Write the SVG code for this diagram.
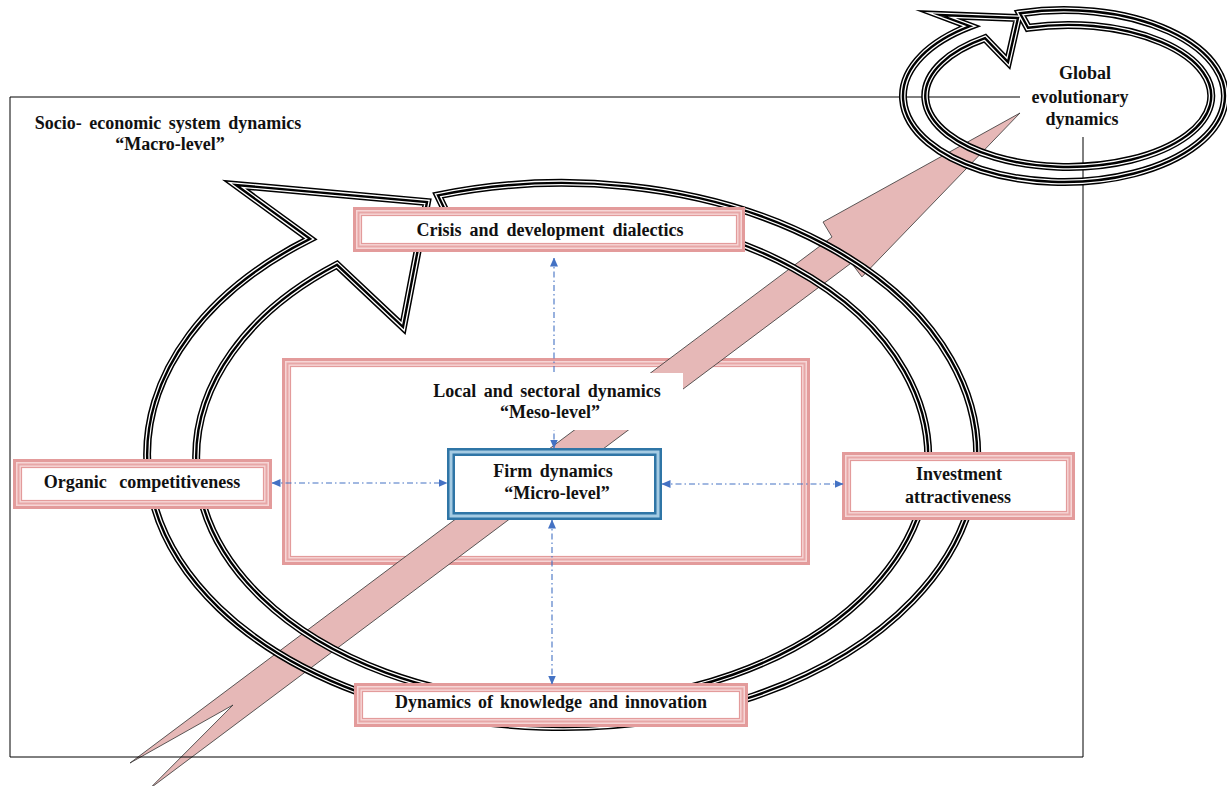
<svg xmlns="http://www.w3.org/2000/svg" width="1227" height="786" viewBox="0 0 1227 786">
<style>
.t{font-family:"Liberation Serif","Times New Roman",serif;font-weight:bold;font-size:18px;fill:#111;text-anchor:middle}
.r1{fill:none;stroke:#000;stroke-width:8;stroke-linejoin:miter;stroke-miterlimit:10}
.r2{fill:none;stroke:#fff;stroke-width:5;stroke-linejoin:miter;stroke-miterlimit:10}
.r3{fill:none;stroke:#000;stroke-width:2.4;stroke-linejoin:miter;stroke-miterlimit:10}
.rb0{fill:#fff;stroke:#F6D6D6;stroke-width:8}
.rb0n{fill:none;stroke:#F6D6D6;stroke-width:8}
.rb1{fill:none;stroke:#E39B9B;stroke-width:3}
.rb2{fill:none;stroke:#E7A7A7;stroke-width:2}
.rb3{fill:none;stroke:#E39B9B;stroke-width:1.2}
.bb0{fill:#fff;stroke:#A5CBE3;stroke-width:8}
.bb1{fill:none;stroke:#2F75A6;stroke-width:2.5}
.cn{fill:none;stroke:#4472C4;stroke-width:1.1;stroke-dasharray:6 3 1.5 3;marker-start:url(#ah);marker-end:url(#ah)}
</style>
<defs>
<marker id="ah" viewBox="0 0 9 8" refX="8.5" refY="4" markerWidth="9" markerHeight="8" markerUnits="userSpaceOnUse" orient="auto-start-reverse">
<path d="M0,0 L9,4 L0,8 z" fill="#4472C4"/>
</marker>
<path id="bigring" d="M 438 195.4 A 415 272 0 1 1 310 238.9 L 236 185 L 427 202 L 403 327 L 337 264.8 A 366 245 0 1 0 452 224.3 Z"/>
<path id="globring" d="M 1020 13.3 A 161 86 0 1 1 970 26.2 L 940 15 L 1018 18 L 1008 62 L 985 38.2 A 143 71 0 1 0 1028 27.8 Z"/>
</defs>
<rect width="1227" height="786" fill="#fff"/>

<g id="meso">
<rect class="rb0n" x="286" y="362" width="520" height="199"/>
<rect class="rb1" x="283.5" y="359.5" width="525" height="204"/>
<rect class="rb2" x="287.5" y="363.5" width="517" height="196"/>
<rect class="rb3" x="290.5" y="366.5" width="511" height="190"/>
</g>

<g id="evolution-arrow">
<polygon points="130,763 832,237 823,222 1020,113 861.9,276.9 851.4,262.9 149.4,788.9 233,705" fill="#E6B8B7" stroke="#333" stroke-width="0.8"/>
</g>

<g id="macro-frame">
<polyline points="1020,97 10,97 10,757 1083,757 1083,137" fill="none" stroke="#000" stroke-width="1"/>
<text class="t" x="168" y="129" word-spacing="3">Socio- economic system dynamics</text>
<text class="t" x="170" y="150">“Macro-level”</text>
</g>

<g id="macro-cycle">
<use href="#bigring" class="r1"/>
<use href="#bigring" class="r2"/>
<use href="#bigring" class="r3"/>
</g>

<g id="global">
<use href="#globring" class="r1"/>
<use href="#globring" class="r2"/>
<use href="#globring" class="r3"/>
<text class="t" x="1085" y="79">Global</text>
<text class="t" x="1080" y="103">evolutionary</text>
<text class="t" x="1082" y="125">dynamics</text>
</g>

<g id="crisis">
<rect class="rb0" x="357" y="211" width="384" height="37"/>
<rect class="rb1" x="354.5" y="208.5" width="389" height="42"/>
<rect class="rb2" x="358.5" y="212.5" width="381" height="34"/>
<rect class="rb3" x="361.5" y="215.5" width="375" height="28"/>
<text class="t" x="550" y="236" word-spacing="3.5">Crisis and development dialectics</text>
</g>

<g id="organic">
<rect class="rb0" x="17" y="463" width="251" height="42"/>
<rect class="rb1" x="14.5" y="460.5" width="256" height="47"/>
<rect class="rb2" x="18.5" y="464.5" width="248" height="39"/>
<rect class="rb3" x="21.5" y="467.5" width="242" height="33"/>
<text class="t" x="142" y="488" word-spacing="8">Organic competitiveness</text>
</g>

<g id="investment">
<rect class="rb0" x="846" y="456" width="225" height="60"/>
<rect class="rb1" x="843.5" y="453.5" width="230" height="65"/>
<rect class="rb2" x="847.5" y="457.5" width="222" height="57"/>
<rect class="rb3" x="850.5" y="460.5" width="216" height="51"/>
<text class="t" x="959" y="480">Investment</text>
<text class="t" x="958" y="503">attractiveness</text>
</g>

<g id="knowledge">
<rect class="rb0" x="358" y="687" width="386" height="36"/>
<rect class="rb1" x="355.5" y="684.5" width="391" height="41"/>
<rect class="rb2" x="359.5" y="688.5" width="383" height="33"/>
<rect class="rb3" x="362.5" y="691.5" width="377" height="27"/>
<text class="t" x="551" y="708" word-spacing="2.5">Dynamics of knowledge and innovation</text>
</g>

<g id="firm">
<rect class="bb0" x="451" y="452" width="207" height="64"/>
<rect class="bb1" x="448.25" y="449.25" width="212.5" height="69.5"/>
<rect class="bb1" x="453.75" y="454.75" width="201.5" height="58.5"/>
<text class="t" x="553" y="477" word-spacing="3">Firm dynamics</text>
<text class="t" x="557" y="499">“Micro-level”</text>
</g>

<g id="connectors">
<path class="cn" d="M554,258 L554,448"/>
<path class="cn" d="M552,520 L552,684"/>
<path class="cn" d="M272,483 L447,483"/>
<path class="cn" d="M662,484 L843,484"/>
</g>

<g id="meso-label">
<rect x="428" y="373" width="255" height="57" fill="#fff"/>
<text class="t" x="547" y="397" word-spacing="3">Local and sectoral dynamics</text>
<text class="t" x="550" y="418">“Meso-level”</text>
</g>
</svg>
